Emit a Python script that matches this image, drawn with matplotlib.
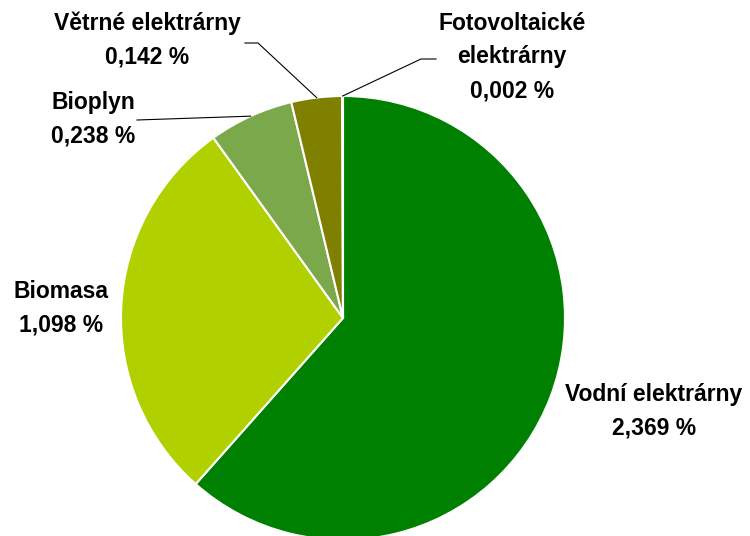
import numpy as np
import matplotlib
matplotlib.use("Agg")
from matplotlib import pyplot as plt

plt.rcParams['font.family'] = ['Liberation Sans', 'DejaVu Sans']

# data
labels = ['Vodní elektrárny', 'Biomasa', 'Bioplyn', 'Větrné elektrárny', 'Fotovoltaické\nelektrárny']
values = [2.369, 1.098, 0.238, 0.142, 0.002]
colors = ['#008000', '#b0d000', '#7ba84b', '#808000', '#5a8a20']

# layout (pixel coords, y measured upward)
W, H = 750, 536
cx, cy, r = 343, 218, 222
label_pos = [(654, 125), (61, 228), (93, 417), (147, 496), (512, 479)]
# elbow points of leader lines (None = no leader line)
leader_ends = [None, None, [(137, 416)], [(245, 493), (258, 493)], [(436, 477), (421, 477)]]

fig = plt.figure(figsize=(7.5, 5.36), dpi=100)
ax = fig.add_axes([0, 0, 1, 1])

wedges, _ = ax.pie(values, colors=colors, startangle=90, counterclock=False,
                   center=(cx, cy), radius=r,
                   wedgeprops=dict(edgecolor='white', linewidth=1.5))
ax.set_xlim(0, W)
ax.set_ylim(0, H)
ax.set_aspect('equal')
ax.axis('off')

for lab, val, pos, w, lead in zip(labels, values, label_pos, wedges, leader_ends):
    txt = lab + '\n' + ('%.3f %%' % val).replace('.', ',')
    ax.text(pos[0], pos[1], txt, ha='center', va='center', fontsize=16.5,
            fontweight='bold', linespacing=1.6, color='black')
    if lead is not None:
        ang = np.deg2rad((w.theta1 + w.theta2) / 2)
        rim = (cx + r * np.cos(ang), cy + r * np.sin(ang))
        pts = lead + [rim]
        ax.plot([p[0] for p in pts], [p[1] for p in pts], color='black', lw=0.8)

fig.savefig('out.png', dpi=100)
